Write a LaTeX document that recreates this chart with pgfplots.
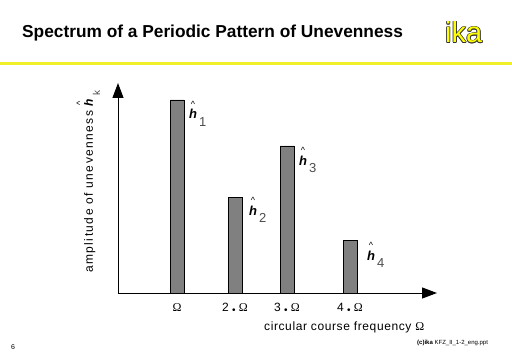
\documentclass[border=0pt]{standalone}
\usepackage{fontspec}
\setmainfont{Liberation Sans}
\newfontfamily\serifgreek{Liberation Serif}
\usepackage{pgfplots}
\pgfplotsset{compat=1.18}
\usetikzlibrary{arrows.meta}
\definecolor{ikayellow}{RGB}{240,240,40}
\definecolor{logoyellow}{RGB}{255,255,0}
\definecolor{barGray}{RGB}{128,128,128}
\newcommand{\Om}{{\serifgreek Ω}}
\newcommand{\hhat}{\leavevmode\rlap{\raisebox{0.85em}{\hspace{0.12em}\fontsize{9}{9}\selectfont\textasciicircum}}\textbf{\textit{h}}}
\newcommand{\hk}[1]{\hhat\hspace{2pt}\raisebox{-7pt}{\color{black!70}#1}}
\newcommand{\bul}{\raisebox{-1.5pt}{\fontsize{10}{10}\selectfont\textbullet}}
\begin{document}
\begin{tikzpicture}[x=1pt,y=1pt]
\path[use as bounding box] (0,0) rectangle (512,354);
% title
\node[anchor=base west, inner sep=0, font=\fontsize{17.3}{19}\selectfont\bfseries] at (22,316.5) {Spectrum of a Periodic Pattern of Unevenness};
\fill[ikayellow] (0,289) rectangle (512,292);
% logo
\foreach \dx/\dy in {-0.7/0,0.7/0,0/-0.7,0/0.7,-0.5/-0.5,0.5/0.5,-0.5/0.5,0.5/-0.5}{
  \node[anchor=base west, inner sep=0, font=\fontsize{29}{30}\selectfont, text=black!80] at (445+\dx,311+\dy) {ika};
}
\node[anchor=base west, inner sep=0, font=\fontsize{29}{30}\selectfont, text=logoyellow] at (445,311) {ika};
\begin{axis}[
  at={(118pt,61pt)}, anchor=south west,
  scale only axis, width=319pt, height=210pt,
  xmin=118, xmax=437, ymin=0, ymax=210,
  axis x line=bottom, axis y line=left,
  axis line style={line width=1pt, -{Triangle[width=11pt,length=15pt]}},
  xtick={177,235,287,350},
  xticklabels={\mbox{\Om}, \mbox{2 \bul\ \Om}, \mbox{3 \bul\ \Om}, \mbox{4 \bul\ \Om}},
  ytick=\empty,
  major tick length=0pt,
  xticklabel style={font=\fontsize{12}{13}\selectfont, yshift=-7pt},
  clip=false,
]
\addplot[ybar, bar width=14pt, fill=barGray, draw=black, line width=0.9pt]
  coordinates {(177,193) (235,96) (287,147) (350,53)};
\node[anchor=base west, inner sep=0, font=\fontsize{13}{14}\selectfont] at (axis cs:189,174) {\hk{1}};
\node[anchor=base west, inner sep=0, font=\fontsize{13}{14}\selectfont] at (axis cs:249,78) {\hk{2}};
\node[anchor=base west, inner sep=0, font=\fontsize{13}{14}\selectfont] at (axis cs:299,128) {\hk{3}};
\node[anchor=base west, inner sep=0, font=\fontsize{13}{14}\selectfont] at (axis cs:367,33) {\hk{4}};
\end{axis}
% axis labels
\node[rotate=90, anchor=base west, inner sep=0, font=\fontsize{12}{13}\selectfont] at (93,81) {\addfontfeature{LetterSpace=12}amplitude of unevenness\hspace{4pt}\hk{\fontsize{10}{10}\selectfont k}};
\node[anchor=base west, inner sep=0, font=\fontsize{12}{13}\selectfont] at (264,24) {\addfontfeature{LetterSpace=5}circular course frequency \Om};
\node[anchor=base west, inner sep=0, font=\fontsize{6}{7}\selectfont] at (417,10) {\textbf{(c)ika} KFZ\_II\_1-2\_eng.ppt};
\node[anchor=base west, inner sep=0, font=\fontsize{7}{8}\selectfont] at (11,5) {6};
\end{tikzpicture}
\end{document}
